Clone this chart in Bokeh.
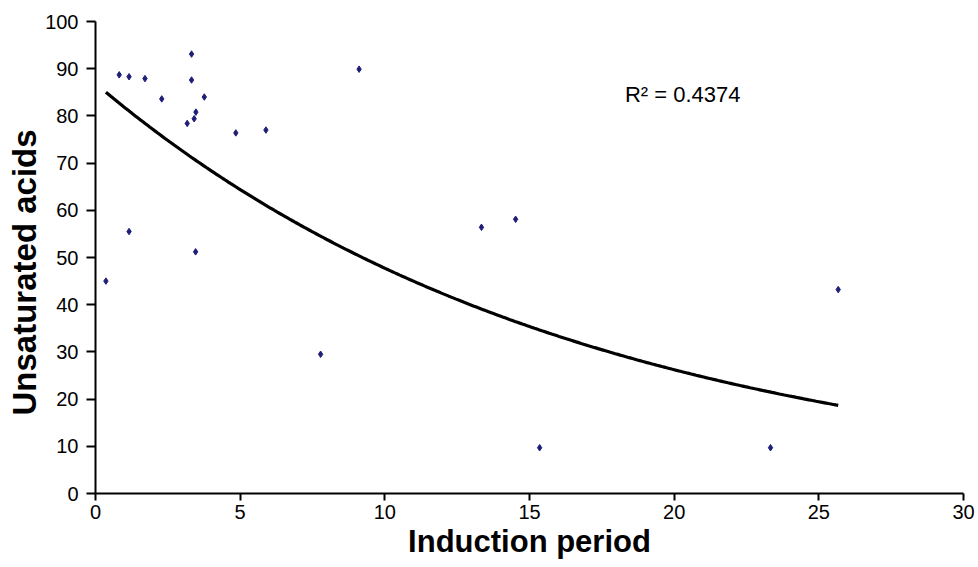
import numpy as np
from bokeh.plotting import figure
from bokeh.models import Label, FixedTicker, ColumnDataSource, Title
from bokeh.embed import file_html
from bokeh.resources import INLINE

# Data
induction_period = [0.36, 0.82, 1.16, 1.16, 1.71, 2.29, 3.17, 3.32, 3.32, 3.41, 3.46,
                    3.47, 3.76, 4.85, 5.89, 7.78, 9.11, 13.34, 14.52, 15.35, 23.33, 25.67]
unsaturated_acids = [45.0, 88.7, 88.3, 55.5, 87.9, 83.6, 78.4, 93.1, 87.6, 79.4, 51.2,
                     80.8, 84.0, 76.4, 77.0, 29.5, 89.9, 56.4, 58.1, 9.7, 9.7, 43.2]
x_ticks = [0, 5, 10, 15, 20, 25, 30]
y_ticks = [0, 10, 20, 30, 40, 50, 60, 70, 80, 90, 100]
r2_text = "R\u00b2 = 0.4374"
x_title = "Induction period"
y_title = "Unsaturated acids"

# Exponential trend line fitted to the data (as a spreadsheet trendline)
xs = np.array(induction_period)
ys = np.array(unsaturated_acids)
b, ln_a = np.polyfit(xs, np.log(ys), 1)
trend_x = np.linspace(xs.min(), xs.max(), 300)
trend_y = np.exp(ln_a) * np.exp(b * trend_x)

p = figure(width=978, height=567, output_backend="svg", toolbar_location=None,
           x_range=(0, 30), y_range=(0, 100),
           min_border_left=95, min_border_right=15, min_border_top=21, min_border_bottom=74)
p.grid.visible = False
p.outline_line_color = None
p.background_fill_color = "white"
p.border_fill_color = "white"

p.line(trend_x, trend_y, line_color="black", line_width=3.2)
src = ColumnDataSource(dict(x=induction_period, y=unsaturated_acids))
p.scatter("x", "y", source=src, marker="diamond", size=6.5,
          fill_color="#1e1e78", line_color="#1e1e78")

p.add_layout(Label(x=18.3, y=84.6, text=r2_text, text_font="Liberation Sans",
                   text_font_size="22px", text_baseline="middle", text_color="black"))

# y-axis title as a side title, shifted up from the frame bottom like the reference
p.add_layout(Title(text=y_title, align="left", offset=78, standoff=0,
                   text_font="Liberation Sans", text_font_style="bold",
                   text_font_size="33px", text_color="black"), "left")

for ax, ticks in ((p.xaxis[0], x_ticks), (p.yaxis[0], y_ticks)):
    ax.ticker = FixedTicker(ticks=ticks)
    ax.axis_line_width = 2
    ax.axis_line_color = "black"
    ax.major_tick_line_width = 2
    ax.major_tick_line_color = "black"
    ax.major_tick_in = 0
    ax.minor_tick_line_color = None
    ax.major_label_text_font = "Liberation Sans"
    ax.major_label_text_font_size = "20px"
    ax.major_label_text_color = "black"
    ax.axis_label_text_font = "Liberation Sans"
    ax.axis_label_text_font_style = "bold"
    ax.axis_label_text_font_size = "31px"
    ax.axis_label_text_color = "black"

p.xaxis.major_tick_out = 7
p.yaxis.major_tick_out = 9
p.xaxis.major_label_standoff = 4
p.yaxis.major_label_standoff = 8
p.xaxis.axis_label = x_title
p.xaxis.axis_label_standoff = 2

open("out.html", "w").write(file_html(p, INLINE))
